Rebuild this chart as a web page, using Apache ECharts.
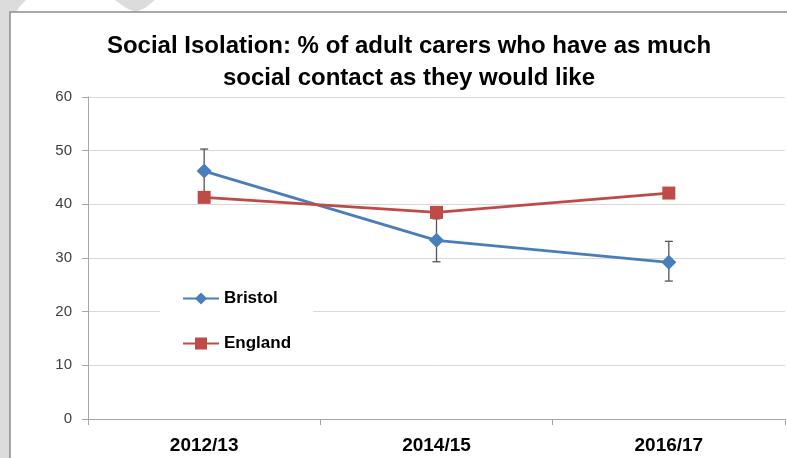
<!DOCTYPE html>
<html><head><meta charset="utf-8">
<script src="https://cdn.jsdelivr.net/npm/echarts@6/dist/echarts.min.js"></script>
<style>html,body{margin:0;padding:0;background:#fff}#c{width:787px;height:458px}</style>
</head><body><div id="c"></div>
<script>
const categories = ['2012/13', '2014/15', '2016/17'];
const bristol = [46.2, 33.3, 29.2];
const bristolLow = [42.2, 29.3, 25.7];
const bristolHigh = [50.3, 37.3, 33.1];
const england = [41.3, 38.5, 42.1];
const yTicks = [0, 10, 20, 30, 40, 50, 60];

const chart = echarts.init(document.getElementById('c'), null, {renderer: 'canvas'});
const font = '"Liberation Sans", Arial, sans-serif';
chart.setOption({
  animation: false,
  backgroundColor: '#fff',
  graphic: [
    {type: 'rect', shape: {x: 0, y: 0, width: 10, height: 458}, style: {fill: '#dcdcdc'}, z: -10},
    {type: 'polygon', shape: {points: [[0,0],[26,0],[20,6],[16,12],[0,12]]}, style: {fill: '#dcdcdc'}, z: -10},
    {type: 'polygon', shape: {points: [[115,0],[155,0],[145,8],[136,12],[126,8]]}, style: {fill: '#dcdcdc'}, z: -10},
    {type: 'rect', shape: {x: 10, y: 12, width: 790, height: 460}, style: {fill: '#fff', stroke: '#8c8c8c', lineWidth: 1.5}, z: -9}
  ],
  title: {
    text: 'Social Isolation: % of adult carers who have as much\nsocial contact as they would like',
    left: 404, textAlign: 'center', top: 25,
    textStyle: {fontFamily: font, fontWeight: 'bold', fontSize: 24, lineHeight: 32, color: '#000'}
  },
  legend: {
    orient: 'vertical', left: 160, top: 280,
    padding: [10, 22, 10, 22],
    backgroundColor: '#fff',
    itemGap: 28, itemWidth: 36, itemHeight: 15,
    textStyle: {fontFamily: font, fontWeight: 'bold', fontSize: 17, color: '#000'},
    data: ['Bristol', 'England']
  },
  grid: {left: 88, right: 2, top: 97, bottom: 39},
  xAxis: {
    type: 'category', data: categories, boundaryGap: true,
    axisLine: {lineStyle: {color: '#a6a6a6', width: 1}},
    axisTick: {show: true, length: 6, lineStyle: {color: '#a6a6a6'}},
    axisLabel: {fontFamily: font, fontWeight: 'bold', fontSize: 19, color: '#000', margin: 17}
  },
  yAxis: {
    type: 'value', min: 0, max: 60, interval: 10,
    axisLine: {show: true, lineStyle: {color: '#a6a6a6'}},
    axisTick: {show: true, inside: false, length: 6, lineStyle: {color: '#a6a6a6'}},
    axisLabel: {fontFamily: font, fontSize: 15, color: '#404040', margin: 16},
    splitLine: {lineStyle: {color: '#d9d9d9', width: 1}}
  },
  series: [
    {
      type: 'custom', name: 'err', z: 1, silent: true,
      data: categories.map((c, i) => [i, bristolLow[i], bristolHigh[i]]),
      renderItem: function (params, api) {
        const lo = api.coord([api.value(0), api.value(1)]);
        const hi = api.coord([api.value(0), api.value(2)]);
        const w = 4;
        const st = {stroke: '#555', lineWidth: 1.3};
        return {type: 'group', children: [
          {type: 'line', shape: {x1: lo[0], y1: lo[1], x2: hi[0], y2: hi[1]}, style: st},
          {type: 'line', shape: {x1: lo[0]-w, y1: lo[1], x2: lo[0]+w, y2: lo[1]}, style: st},
          {type: 'line', shape: {x1: hi[0]-w, y1: hi[1], x2: hi[0]+w, y2: hi[1]}, style: st}
        ]};
      }
    },
    {
      type: 'line', name: 'Bristol', data: bristol, z: 3,
      symbol: 'diamond', symbolSize: 15,
      lineStyle: {color: '#4a7ebb', width: 2.8},
      itemStyle: {color: '#4a7ebb'}
    },
    {
      type: 'line', name: 'England', data: england, z: 4,
      symbol: 'rect', symbolSize: 13,
      lineStyle: {color: '#be4b48', width: 2.8},
      itemStyle: {color: '#be4b48'}
    }
  ]
});
</script></body></html>
